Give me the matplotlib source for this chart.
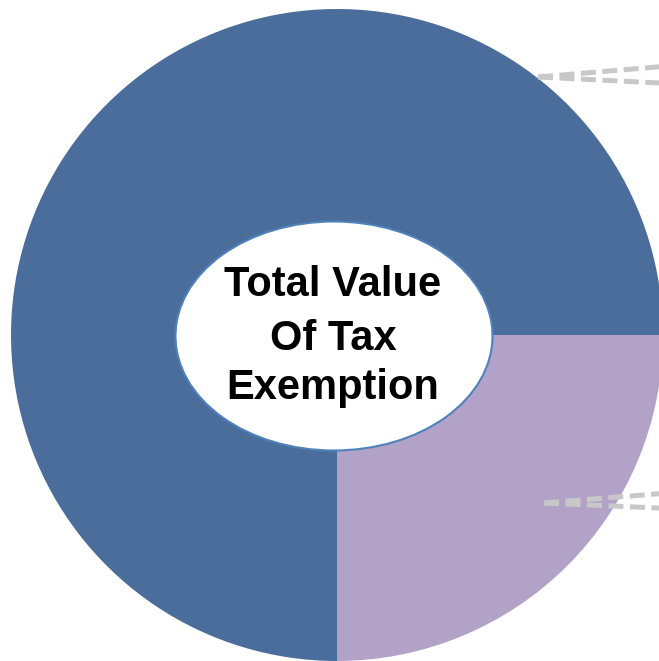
import matplotlib
matplotlib.use("Agg")
import matplotlib.pyplot as plt
from matplotlib.patches import Ellipse

# share of the total value of tax exemption
shares = [25, 75]
colors = ["#B3A2C8", "#4A6D9B"]
center_lines = ["Total Value", "Of Tax", "Exemption"]

# leader lines running out to the (off-canvas) labels, pixel coords from the top-left
leaders = [
    ((538, 77), (680, 65)),
    ((538, 77), (680, 84)),
    ((544, 503), (680, 492)),
    ((544, 503), (680, 509)),
]

W, H = 659, 661
fig = plt.figure(figsize=(W / 100, H / 100), dpi=100)
ax = fig.add_axes([0, 0, 1, 1])

ax.pie(shares, colors=colors, startangle=0, counterclock=False,
       center=(337, H - 335), radius=326, frame=True,
       wedgeprops=dict(linewidth=0))
ax.set_xlim(0, W)
ax.set_ylim(0, H)
ax.set_aspect("equal")
ax.axis("off")

for (x0, y0), (x1, y1) in leaders:
    ax.plot([x0, x1], [H - y0, H - y1], color="#C8C8C8", lw=3.6,
            linestyle=(0, (3, 1.3)), solid_capstyle="butt", zorder=3)

ax.add_patch(Ellipse((334, H - 336), 317, 229, facecolor="white",
                     edgecolor="#4F81BD", lw=1.5, zorder=4))

# one line at a time so the baselines sit where they should
for line, base in zip(center_lines, [296, 350, 399]):
    ax.text(333, H - base, line, ha="center", va="baseline",
            fontsize=30, fontweight="bold", family="Liberation Sans",
            zorder=5)

fig.savefig("out.png", dpi=100)
